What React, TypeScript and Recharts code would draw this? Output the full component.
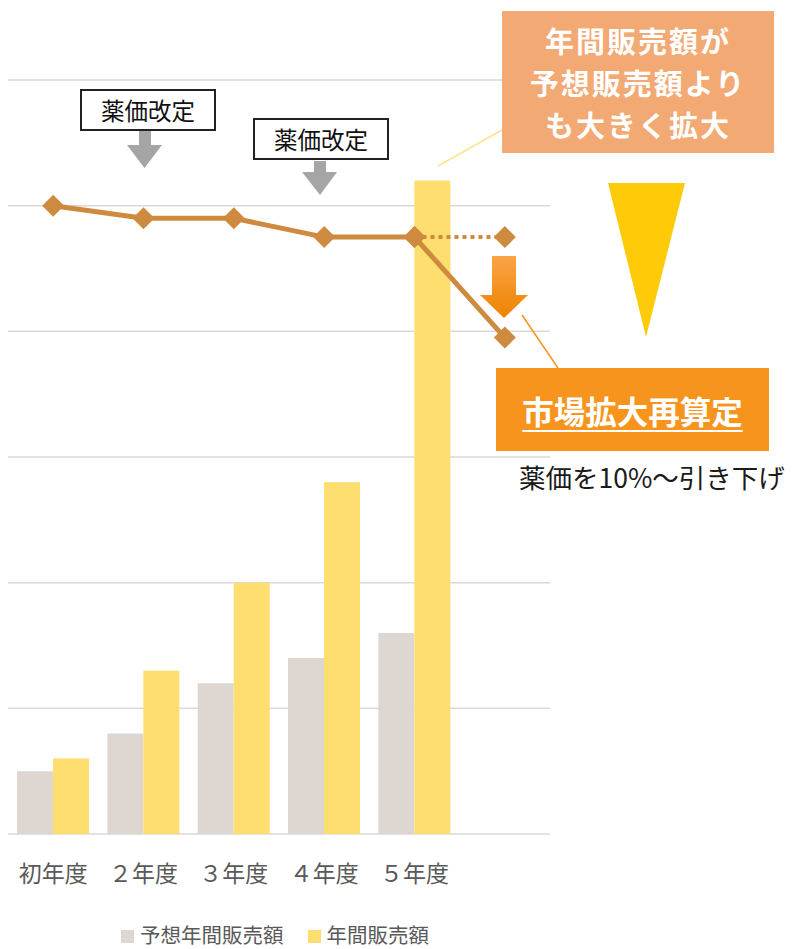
import React from "react";
import {
  ComposedChart, Bar, Line, XAxis, YAxis, CartesianGrid, Legend,
} from "recharts";

const categories = ["初年度", "２年度", "３年度", "４年度", "５年度", ""];
const forecastSales = [0.5, 0.8, 1.2, 1.4, 1.6, null];
const actualSales = [0.6, 1.3, 2.0, 2.8, 5.2, null];
const drugPrice = [5.0, 4.9, 4.9, 4.75, 4.75, 3.95];
const priceWithoutRevision = [null, null, null, null, 4.75, 4.75];
const yTicks = [0, 1, 2, 3, 4, 5, 6];

const data = categories.map((name, i) => ({
  name,
  forecast: forecastSales[i],
  actual: actualSales[i],
  price: drugPrice[i],
  flat: priceWithoutRevision[i],
}));

const FONT = '"Noto Sans CJK JP", "Noto Sans", sans-serif';
const LINE_COLOR = "#CE8B3F";
const GREY_BAR = "#DDD6D1";
const YELLOW_BAR = "#FDDE6E";

const Diamond = (props: any) => {
  const { cx, cy, index } = props;
  if (cx == null || cy == null || props.value == null) return <g key={`d-${index}`} />;
  const r = 11;
  return (
    <path
      key={`d-${index}`}
      d={`M${cx} ${cy - r} L${cx + r} ${cy} L${cx} ${cy + r} L${cx - r} ${cy} Z`}
      fill={LINE_COLOR}
    />
  );
};

const LegendContent = () => (
  <div style={{ display: "flex", justifyContent: "center", alignItems: "center", fontFamily: FONT, fontSize: 20.5, lineHeight: "30px", color: "#595959", height: 30 }}>
    <span style={{ display: "inline-block", width: 13, height: 13, background: GREY_BAR, marginRight: 6, marginTop: 4 }} />
    <span style={{ marginRight: 24 }}>予想年間販売額</span>
    <span style={{ display: "inline-block", width: 13, height: 13, background: YELLOW_BAR, marginRight: 6, marginTop: 4 }} />
    <span>年間販売額</span>
  </div>
);

const PriceBox = ({ left, top }: { left: number; top: number }) => (
  <div style={{
    position: "absolute", left, top, width: 136, height: 42, boxSizing: "border-box",
    border: "2px solid #222", background: "#fff", display: "flex", alignItems: "center",
    justifyContent: "center", fontFamily: FONT, fontSize: 23.5, lineHeight: "30px", color: "#111",
  }}>薬価改定</div>
);

export default function App() {
  return (
    <div style={{ position: "fixed", left: 0, top: 0, width: 795, height: 949, background: "#fff" }}>
      <ComposedChart
        width={795}
        height={949}
        data={data}
        margin={{ top: 80, right: 245, left: 8, bottom: 0 }}
        barCategoryGap="10%"
        barGap={0}
      >
        <CartesianGrid vertical={false} stroke="#D9D9D9" strokeWidth={1.5} />
        <XAxis
          dataKey="name"
          axisLine={false}
          tickLine={false}
          tickSize={0}
          tickMargin={32}
          height={85}
          interval={0}
          tick={{ fontSize: 23, fill: "#595959", fontFamily: FONT }}
        />
        <YAxis hide domain={[0, 6]} ticks={yTicks} />
        <Legend verticalAlign="bottom" height={30} wrapperStyle={{ left: 0, width: 550, bottom: 0 }} content={<LegendContent />} />
        <Bar dataKey="forecast" fill={GREY_BAR} isAnimationActive={false} />
        <Bar dataKey="actual" fill={YELLOW_BAR} isAnimationActive={false} />
        <Line
          dataKey="flat"
          stroke={LINE_COLOR}
          strokeWidth={4}
          strokeDasharray="4 4"
          dot={Diamond}
          activeDot={false}
          legendType="none"
          connectNulls={false}
          isAnimationActive={false}
        />
        <Line
          dataKey="price"
          stroke={LINE_COLOR}
          strokeWidth={5}
          dot={Diamond}
          activeDot={false}
          legendType="none"
          isAnimationActive={false}
        />
      </ComposedChart>

      <svg width={795} height={949} style={{ position: "absolute", left: 0, top: 0, pointerEvents: "none" }}>
        <defs>
          <linearGradient id="orangeArrow" x1="0" y1="0" x2="0" y2="1">
            <stop offset="0%" stopColor="#FAA448" />
            <stop offset="100%" stopColor="#EE8300" />
          </linearGradient>
        </defs>
        {/* gray arrows under 薬価改定 */}
        <path d="M139 131 L151 131 L151 145 L162 145 L144.5 168 L127 145 L139 145 Z" fill="#A5A5A5" />
        <path d="M314 161 L326 161 L326 172 L337 172 L320 195 L302 172 L314 172 Z" fill="#A5A5A5" />
        {/* leader lines */}
        <line x1={438} y1={166} x2={502} y2={130} stroke="#FDE48E" strokeWidth={1.5} />
        <line x1={522} y1={315} x2={558} y2={368} stroke="#F7941D" strokeWidth={1.5} />
        {/* big yellow wedge */}
        <path d="M608 183 L685 183 L646 337 Z" fill="#FFCA08" />
        {/* orange down arrow */}
        <path d="M492 256 L516 256 L516 295 L528 295 L504 318 L480 295 L492 295 Z" fill="url(#orangeArrow)" />
      </svg>

      <PriceBox left={80} top={89} />
      <PriceBox left={253} top={118} />

      <div style={{
        position: "absolute", left: 502, top: 11, width: 272, height: 142, background: "#F3A973",
        color: "#fff", fontFamily: FONT, fontWeight: 700, fontSize: 29, lineHeight: "42px", letterSpacing: 2,
        display: "flex", flexDirection: "column", alignItems: "center", justifyContent: "center",
      }}>
        <div>年間販売額が</div>
        <div>予想販売額より</div>
        <div>も大きく拡大</div>
      </div>

      <div style={{
        position: "absolute", left: 496, top: 368, width: 273, height: 83, background: "#F7941D",
        color: "#fff", fontFamily: FONT, fontWeight: 700, fontSize: 31.5, lineHeight: "46px",
        display: "flex", alignItems: "center", justifyContent: "center",
      }}>
        <span style={{ textDecoration: "underline", textUnderlineOffset: 6, textDecorationThickness: 2 }}>市場拡大再算定</span>
      </div>

      <div style={{
        position: "absolute", left: 519, top: 458, fontFamily: FONT, fontSize: 26.5, color: "#1a1a1a",
        lineHeight: "38px", whiteSpace: "nowrap",
      }}>薬価を10%～引き下げ</div>
    </div>
  );
}
